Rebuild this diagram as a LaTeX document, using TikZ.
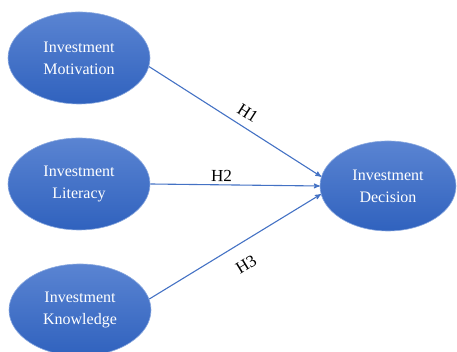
\documentclass[tikz,border=0pt]{standalone}
\usepackage{tikz}
\usepackage{fontspec}
\setmainfont{Liberation Serif}
\usetikzlibrary{shapes,arrows,positioning}
\definecolor{linkblue}{HTML}{4472C4}
\definecolor{topblue}{HTML}{5A84D2}
\definecolor{lowblue}{HTML}{3062BE}

\begin{document}
\begin{tikzpicture}[->,>=stealth',x=1pt,y=1pt,
  semithick]
  \tikzstyle{construct}=[ellipse,draw=topblue!70!white,line width=0.6pt,
    top color=topblue,bottom color=lowblue,text=white,inner sep=0pt,
    minimum width=142pt,minimum height=92pt,align=center,
    font=\fontsize{16}{22}\selectfont]
  \tikzstyle{every edge}=[draw=linkblue,line width=1.1pt]
  \tikzstyle{hyp}=[font=\fontsize{17}{19}\selectfont,text=black,sloped,inner sep=1pt]

  \useasboundingbox (0,0) rectangle (457,352);

  \node[construct] (MOT) at (79,294) {Investment\\Motivation};
  \node[construct] (LIT) at (79,168) {Investment\\Literacy};
  \node[construct] (KNO) at (80,42)  {Investment\\Knowledge};
  \node[construct,minimum width=136pt,minimum height=90pt] (DEC) at (388,166) {Investment\\Decision};

  \path
  (MOT.-7) edge node [hyp,above=7pt,pos=0.53]  {H1} (DEC.172)
  (LIT.east) edge node [hyp,above=2pt,pos=0.42] {H2} (DEC.west)
  (KNO.9)  edge node [hyp,below=14pt,pos=0.5] {H3} (DEC.187)
  ;
\end{tikzpicture}
\end{document}
